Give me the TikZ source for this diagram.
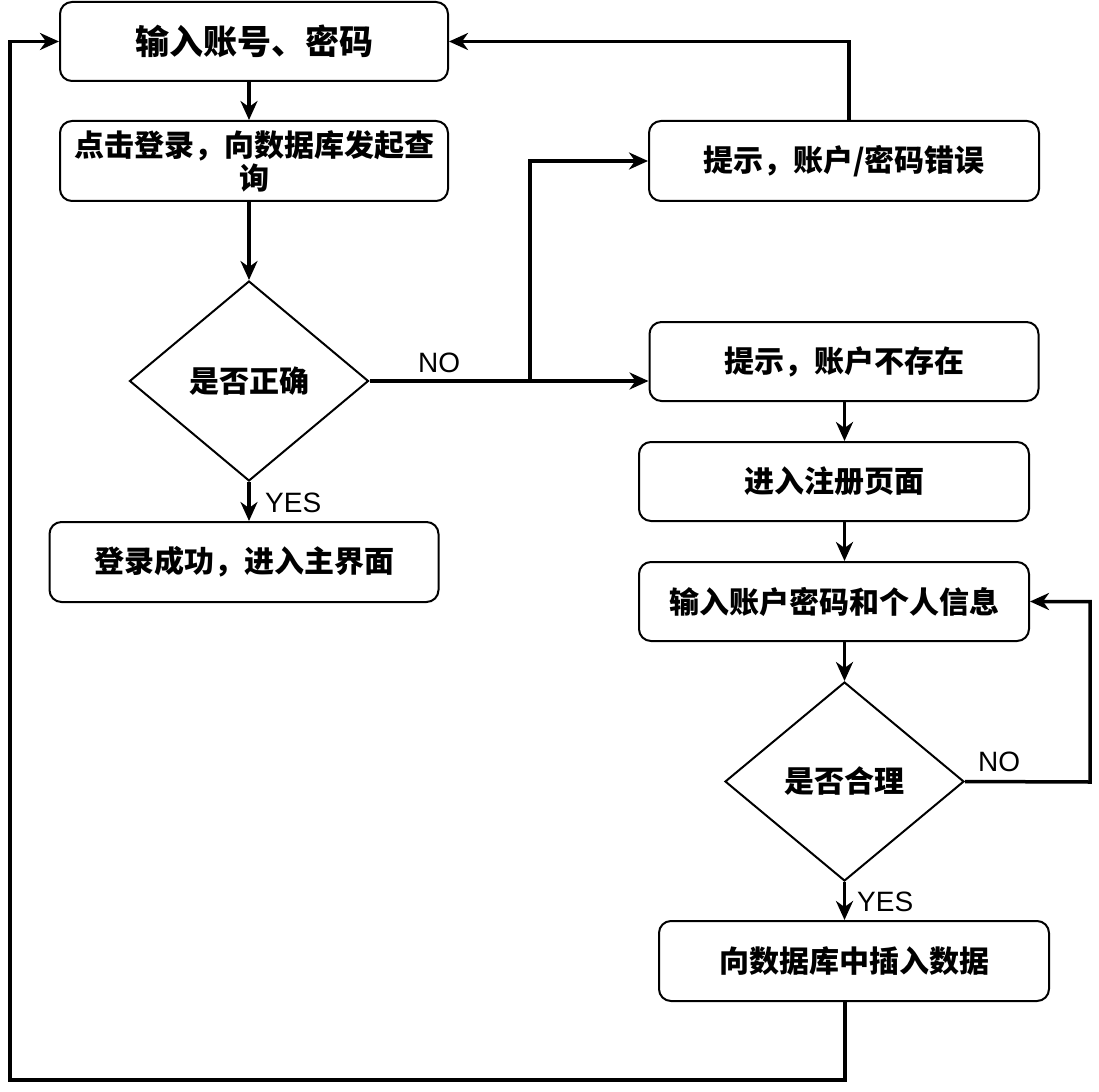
\documentclass[tikz,border=0pt]{standalone}
\usepackage{fontspec}
\setmainfont{Liberation Sans}
\newfontfamily\cjk{Noto Sans CJK SC}
\usetikzlibrary{shapes.geometric,arrows.meta}
\begin{document}
\begin{tikzpicture}[x=1pt,y=-1pt,
  box/.style={draw,line width=2pt,rounded corners=12pt,minimum width=#1,minimum height=79pt,inner sep=0pt,align=center,
    font=\cjk\bfseries\fontsize{30}{33}\selectfont},
  box/.default=390pt,
  decision/.style={draw,line width=2pt,diamond,minimum width=239pt,minimum height=200pt,inner sep=0pt,
    font=\cjk\bfseries\fontsize{30}{33}\selectfont},
  conn/.style={line width=3.5pt,-{Stealth[length=19pt,width=17pt,inset=6pt]}},
  lbl/.style={anchor=base west,inner sep=0pt,font=\fontsize{28}{32}\selectfont}]
\useasboundingbox (0,0) rectangle (1099,1091);

% left column: login
\node[box=388pt,font=\cjk\bfseries\fontsize{34}{38}\selectfont] (login) at (254,41.5) {输入账号、密码};
\node[box=388pt,minimum height=80pt] (query) at (254,161) {点击登录，向数据库发起查\\询};
\node[decision] (check) at (249,381) {是否正确};
\node[box=389pt,minimum height=80pt] (ok) at (244,562) {登录成功，进入主界面};

% right column: errors and registration
\node[box,minimum height=80pt] (wrong) at (844,161) {提示，账户/密码错误};
\node[box=389pt] (noacct) at (844,361.5) {提示，账户不存在};
\node[box] (reg) at (834,481.5) {进入注册页面};
\node[box] (info) at (834,601.5) {输入账户密码和个人信息};
\node[decision,minimum height=199pt] (valid) at (844.5,781.5) {是否合理};
\node[box,minimum height=80pt] (insert) at (854,961) {向数据库中插入数据};

% routing points
\coordinate (split) at (530,381);
\coordinate (retry) at (1090,782);
\coordinate (down) at (845,1080);
\coordinate (corner) at (10,1080);

% connectors
\draw[conn] (login.south -| check) -- (query.north -| check);
\draw[conn] (query.south -| check) -- (check.north);
\draw[conn] (check.south) -- (ok.north -| check);
\draw[conn] (check.east) -- (check.east -| noacct.west);
\draw[conn] (split) |- (wrong.west);
\draw[conn] ([xshift=5pt]wrong.north) |- (login.east);
\draw[conn] (noacct.south -| valid) -- (reg.north -| valid);
\draw[conn] (reg.south -| valid) -- (info.north -| valid);
\draw[conn] (info.south -| valid) -- (valid.north);
\draw[conn] (valid.east) -- (retry) |- (info.east);
\draw[conn] (valid.south) -- (insert.north -| valid);
\draw[conn] (insert.south -| down) -- (down) -- (corner) |- (login.west);

% branch labels
\node[lbl] (no1) at (418,372) {NO};
\node[lbl] (yes1) at (265,512) {YES};
\node[lbl] (no2) at (978,771) {NO};
\node[lbl] (yes2) at (857,911) {YES};
\end{tikzpicture}
\end{document}
